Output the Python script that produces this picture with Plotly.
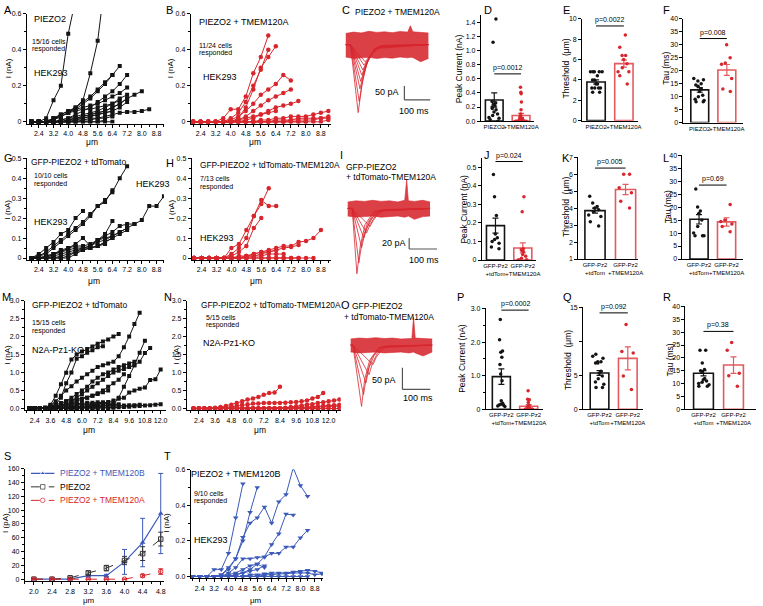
import plotly.graph_objects as go

W, H = 763, 606
FONT = "Liberation Sans, Arial, sans-serif"
BLACK = "#141414"
RED = "#d8262d"
RED_BAR = "#e35a5f"
BLUE = "#3b5ab9"

# ---------------- data ----------------
STEPS = [2.0, 2.4, 2.8, 3.2, 3.6, 4.0, 4.4, 4.8, 5.2, 5.6, 6.0, 6.4, 6.8, 7.2,
         7.6, 8.0, 8.4, 8.8, 9.2, 9.6, 10.0, 10.4, 10.8, 11.2, 11.6, 12.0, 12.4, 12.8]

# A: PIEZO2, HEK293 (nA)
A_series = [
    [0, 0, 0.02, 0.12, 0.20, 0.49, 0.68],
    [0, 0, 0, 0.02, 0.03, 0.05, 0.08, 0.12, 0.27, 0.45, 0.78],
    [0, 0, 0, 0.02, 0.04, 0.06, 0.08, 0.11, 0.14, 0.18, 0.22, 0.26, 0.31],
    [0, 0, 0, 0.01, 0.03, 0.05, 0.07, 0.10, 0.13, 0.17, 0.21, 0.26],
    [0, 0, 0, 0, 0.01, 0.02, 0.04, 0.06, 0.08, 0.11, 0.14, 0.17, 0.21, 0.26],
    [0, 0, 0, 0, 0, 0.01, 0.02, 0.03, 0.04, 0.05, 0.06, 0.08, 0.10, 0.13, 0.15, 0.17],
    [0, 0, 0, 0, 0, 0, 0.01, 0.01, 0.02, 0.02, 0.03, 0.04, 0.05, 0.055, 0.055, 0.06, 0.07],
    [0, 0, 0, 0, 0.01, 0.02, 0.03, 0.04, 0.05, 0.06, 0.08, 0.10, 0.13, 0.15],
    [0, 0, 0, 0, 0, 0.01, 0.02, 0.03, 0.04, 0.05, 0.06, 0.08, 0.10, 0.13],
    [0, 0, 0, 0, 0, 0, 0.01, 0.02, 0.03, 0.04, 0.05, 0.06, 0.08, 0.11],
    [0, 0, 0, 0, 0, 0.01, 0.02, 0.02, 0.03, 0.04, 0.05, 0.06],
    [0, 0, 0, 0, 0, 0, 0, 0.01, 0.01, 0.02, 0.02, 0.03],
    [0, 0, 0, 0.01, 0.03, 0.05, 0.06, 0.07, 0.07, 0.08, 0.09, 0.10, 0.12],
    [0, 0, 0, 0.02, 0.04, 0.06, 0.07, 0.08, 0.09, 0.10, 0.12, 0.14, 0.16, 0.19],
    [0, 0, 0, 0, 0, 0, 0, 0, 0, 0, 0, 0],
    [0, 0, 0, 0, 0, 0, 0, 0, 0, 0, 0.01],
]
# B: PIEZO2 + TMEM120A, HEK293 (nA)
B_series = [
    [0, 0, 0, 0, 0.02, 0.07, 0.07, 0.14, 0.27, 0.36, 0.48],
    [0, 0, 0, 0, 0, 0, 0.02, 0.08, 0.18, 0.30, 0.36, 0.42],
    [0, 0, 0, 0, 0, 0.02, 0.05, 0.11, 0.20, 0.29, 0.40],
    [0, 0, 0, 0, 0, 0.01, 0.03, 0.06, 0.10, 0.15, 0.18, 0.21, 0.26, 0.23],
    [0, 0, 0, 0, 0, 0, 0.01, 0.03, 0.06, 0.09, 0.12, 0.14, 0.16, 0.18],
    [0, 0, 0, 0, 0, 0, 0, 0.01, 0.02, 0.04, 0.06, 0.08, 0.09, 0.10, 0.115],
    [0, 0, 0, 0, 0, 0, 0, 0, 0, 0.01, 0.01, 0.02, 0.02, 0.03, 0.03, 0.03, 0.04, 0.05, 0.06],
    [0, 0, 0, 0, 0, 0, 0, 0, 0, 0, 0, 0.01, 0.01, 0.01, 0.02, 0.02, 0.02, 0.02, 0.03],
    [0, 0, 0, 0, 0, 0, 0, 0, 0, 0, 0, 0, 0, 0.01, 0.01, 0.01, 0.01, 0.02, 0.02],
    [0, 0, 0, 0, 0, 0, 0.01, 0.02, 0.03, 0.04, 0.05, 0.06],
    [0, 0, 0, 0, 0, 0, 0, 0, 0, 0, 0, 0, 0, 0, 0, 0, 0, 0, 0.01],
    [0, 0, 0, 0, 0, 0, 0, 0, 0, 0, 0, 0, 0, 0, 0, 0],
]
# G: GFP-PIEZO2 + tdTomato, HEK293 (nA)
G_series = [
    [0, 0.01, 0.03, 0.06, 0.09, 0.12, 0.15, 0.18, 0.22, 0.26, 0.29, 0.33, 0.40, 0.46],
    [0, 0.01, 0.02, 0.05, 0.08, 0.11, 0.14, 0.17, 0.21, 0.26, 0.28, 0.34],
    [0, 0.02, 0.05, 0.08, 0.12, 0.14, 0.20, 0.235],
    [0, 0, 0.01, 0.02, 0.03, 0.05, 0.07, 0.10, 0.06, 0.09, 0.12, 0.185],
    [0, 0, 0.01, 0.02, 0.03, 0.04, 0.05, 0.05, 0.06, 0.09, 0.11, 0.13, 0.16, 0.17, 0.17, 0.19, 0.26, 0.26, 0.31],
    [0, 0, 0, 0.01, 0.02, 0.03, 0.04, 0.05, 0.06, 0.08, 0.09, 0.11, 0.13, 0.15, 0.17],
    [0, 0, 0, 0, 0.01, 0.02, 0.03, 0.04, 0.05, 0.06, 0.08, 0.10, 0.12, 0.14],
    [0, 0, 0, 0, 0, 0.01, 0.03, 0.05, 0.05, 0.06, 0.08, 0.10],
    [0, 0, 0, 0.02, 0.04, 0.05, 0.06, 0.06, 0.07, 0.09, 0.10, 0.11, 0.13, 0.15],
    [0, 0, 0, 0, 0, 0, 0.02, 0.04, 0.05, 0.06, 0.07],
]
# H: GFP-PIEZO2 + tdTomato-TMEM120A, HEK293 (nA)
H_series = [
    [0, 0, 0, 0, 0, 0.05, 0.07, 0.14, 0.21, 0.27, 0.35],
    [0, 0, 0, 0, 0, 0.02, 0.05, 0.10, 0.21, 0.29, 0.26, 0.26],
    [0, 0, 0, 0, 0, 0.01, 0.03, 0.06, 0.15, 0.20],
    [0, 0, 0, 0, 0, 0, 0, 0.01, 0.02, 0.03, 0.04, 0.05, 0.06, 0.06, 0.08, 0.085, 0.10, 0.14],
    [0, 0, 0, 0, 0, 0, 0, 0.01, 0.01, 0.02, 0.03, 0.04, 0.05, 0.055, 0.065],
    [0, 0, 0, 0, 0, 0, 0.01, 0.01, 0.02, 0.03, 0.03, 0.04],
    [0, 0, 0, 0, 0, 0, 0, 0, 0.01, 0.01, 0.02, 0.02, 0.02],
    [0, 0, 0, 0, 0, 0, 0, 0, 0, 0, 0, 0, 0, 0, 0, 0, 0],
    [0, 0, 0, 0, 0, 0, 0, 0, 0, 0, 0, 0, 0, 0, 0],
]
# M: GFP-PIEZO2 + tdTomato, N2A-Pz1-KO (nA)
M_series = [
    [0, 0, 0, 0.02, 0.08, 0.2, 0.35, 0.5, 0.62, 0.75, 0.85, 0.95, 1.05, 1.15, 1.2, 1.25, 1.3, 1.45, 1.7, 2.0, 2.35, 2.66],
    [0, 0, 0, 0.02, 0.1, 0.35, 0.67, 0.99, 1.36, 1.5, 1.58, 1.65, 1.72, 1.8, 1.86, 1.92, 2.0, 2.07],
    [0, 0, 0, 0, 0.03, 0.1, 0.3, 0.7, 1.0, 1.38, 1.45, 1.55, 1.62, 1.7, 1.73],
    [0, 0, 0, 0, 0, 0, 0, 0, 0, 0, 0.02, 0.03, 0.04, 0.05, 0.06, 0.08, 0.1, 0.3, 0.6, 0.9, 1.2, 1.55, 1.88],
    [0, 0, 0, 0, 0, 0.02, 0.05, 0.1, 0.2, 0.3, 0.4, 0.5, 0.6, 0.7, 0.8, 0.9, 1.0, 1.05, 1.1, 1.15, 1.2, 1.3, 1.54, 1.68],
    [0, 0, 0, 0, 0, 0, 0, 0, 0.02, 0.03, 0.05, 0.07, 0.1, 0.12, 0.15, 0.18, 0.22, 0.27, 0.3, 0.44, 0.5, 0.55, 0.58, 0.79, 0.81, 1.08],
    [0, 0, 0, 0, 0.02, 0.05, 0.1, 0.2, 0.3, 0.4, 0.5, 0.6, 0.75, 0.85, 0.95, 1.0, 1.08, 1.15, 1.2, 1.25, 1.3],
    [0, 0, 0, 0, 0.01, 0.03, 0.06, 0.1, 0.15, 0.2, 0.25, 0.3, 0.35, 0.42, 0.5, 0.6, 0.7, 0.8, 0.95],
    [0, 0, 0, 0.01, 0.05, 0.1, 0.15, 0.2, 0.22, 0.25, 0.28, 0.3, 0.35, 0.4, 0.45, 0.5],
    [0, 0, 0, 0, 0, 0, 0, 0, 0, 0, 0, 0, 0, 0, 0, 0, 0.02, 0.03, 0.04, 0.05, 0.06, 0.07, 0.08, 0.09, 0.1, 0.12],
    [0, 0, 0, 0.02, 0.05, 0.08, 0.1, 0.12, 0.13, 0.14, 0.15, 0.16, 0.16, 0.17, 0.17],
    [0, 0, 0, 0, 0.02, 0.04, 0.06, 0.08, 0.1, 0.1, 0.11, 0.12, 0.12, 0.13, 0.13, 0.14, 0.15],
    [0, 0, 0, 0, 0, 0.02, 0.03, 0.04, 0.05, 0.06, 0.07, 0.08, 0.08, 0.09, 0.1, 0.1, 0.11, 0.12],
    [0, 0, 0, 0, 0, 0, 0, 0.01, 0.02, 0.03, 0.04, 0.05, 0.05, 0.06, 0.06, 0.07, 0.07, 0.08, 0.08, 0.09, 0.09, 0.1],
    [0, 0, 0, 0, 0, 0, 0, 0, 0, 0, 0.01, 0.01, 0.01, 0.02, 0.02, 0.02, 0.03],
]
# N: GFP-PIEZO2 + tdTomato-TMEM120A, N2A-Pz1-KO (nA)
N_series = [
    [0, 0, 0, 0, 0.02, 0.04, 0.07, 0.10, 0.15, 0.20, 0.25, 0.28, 0.32, 0.38, 0.43, 0.44, 0.60],
    [0, 0, 0, 0, 0, 0.01, 0.03, 0.05, 0.08, 0.10, 0.12, 0.14, 0.14, 0.15, 0.15, 0.15, 0.15, 0.16, 0.17, 0.18, 0.20, 0.22, 0.28, 0.32, 0.43],
    [0, 0, 0, 0, 0, 0, 0, 0, 0, 0, 0, 0, 0, 0, 0, 0, 0, 0.02, 0.04, 0.06, 0.08, 0.10, 0.12, 0.15, 0.17, 0.20, 0.22, 0.25],
    [0, 0, 0, 0, 0, 0, 0, 0, 0, 0, 0, 0, 0, 0, 0, 0, 0, 0, 0.01, 0.02, 0.03, 0.04, 0.05, 0.06, 0.07, 0.08, 0.09, 0.10],
    [0, 0, 0, 0, 0, 0, 0, 0, 0, 0, 0, 0, 0, 0, 0, 0, 0, 0, 0, 0.01, 0.02, 0.02, 0.03, 0.04, 0.05, 0.05, 0.06, 0.07],
    [0, 0, 0, 0, 0, 0, 0, 0, 0, 0, 0, 0, 0, 0, 0, 0, 0, 0, 0, 0, 0, 0, 0, 0, 0, 0, 0, 0],
    [0, 0, 0, 0, 0, 0, 0, 0, 0, 0, 0, 0, 0, 0, 0, 0, 0, 0, 0, 0, 0, 0, 0, 0],
]
# T: PIEZO2 + TMEM120B, HEK293 (nA)
T_series = [
    [0, 0, 0, 0.04, 0.04, 0.13, 0.33, 0.52],
    [0, 0, 0, 0, 0.01, 0.05, 0.10, 0.20, 0.36, 0.50],
    [0, 0, 0, 0, 0.01, 0.04, 0.10, 0.22, 0.30, 0.33, 0.39, 0.30, 0.42, 0.46, 0.61, 0.51, 0.45],
    [0, 0, 0, 0, 0, 0, 0.01, 0.02, 0.04, 0.07, 0.11, 0.18, 0.24, 0.35, 0.345],
    [0, 0, 0, 0, 0, 0.02, 0.05, 0.10, 0.10, 0.107, 0.11, 0.13, 0.13, 0.166, 0.166, 0.217, 0.26],
    [0, 0, 0, 0, 0, 0.01, 0.02, 0.04, 0.06, 0.07, 0.05],
    [0, 0, 0, 0, 0, 0, 0.01, 0.02, 0.03, 0.04, 0.06],
    [0, 0, 0, 0, 0, 0, 0, 0, 0.01, 0.01, 0.015, 0.02, 0.02, 0.02, 0.025, 0.03, 0.035, 0.03, 0.02],
    [0, 0, 0, 0, 0, 0, 0, 0, 0, 0, 0.01, 0.01, 0.015, 0.015, 0.02, 0.02, 0.02, 0.01, 0.015],
    [0, 0, 0, 0, 0, 0, 0, 0, 0, 0, 0, 0, 0, 0, 0, 0, 0],
]
# S: mean +/- SEM (pA)
S_x = [2.0, 2.4, 2.8, 3.2, 3.6, 4.0, 4.4, 4.8]
S_B = [0, 0, 0, 5, 5, 25, 53, 95]
S_B_err = [0, 0, 0, 2, 2, 18, 35, 58]
S_P = [0, 0, 2, 9, 16, 27, 37, 58]
S_P_err = [0, 0, 1, 3, 4, 6, 10, 10]
S_A = [0, 0, 0, 0, 0, 0, 5, 11]
S_A_err = [0, 0, 0, 0, 0, 0, 2, 4]
S_NAMES = ["PIEZO2 + TMEM120B", "PIEZO2", "PIEZO2 + TMEM120A"]

# Example current traces (time ms, current pA)
C_sweeps = [
    ([0, 18, 48, 62, 80, 110, 320], [0, 0, -246, -150, -70, -15, 0]),
    ([0, 18, 52, 66, 85, 115, 320], [0, 0, -205, -125, -60, -12, 0]),
    ([0, 18, 55, 70, 90, 120, 320], [0, 0, -160, -100, -50, -10, 0]),
    ([0, 18, 58, 74, 95, 125, 320], [0, 0, -133, -85, -42, -8, 0]),
    ([0, 18, 62, 78, 100, 130, 320], [0, 0, -110, -72, -36, -6, 0]),
    ([0, 18, 66, 82, 105, 135, 320], [0, 0, -92, -60, -30, -5, 0]),
    ([0, 18, 70, 88, 110, 140, 320], [0, 0, -74, -50, -25, -4, 0]),
    ([0, 18, 75, 92, 115, 145, 320], [0, 0, -62, -42, -20, -3, 0]),
]
C_band_t = [0, 30, 60, 90, 120, 150, 180, 210, 240, 250, 260, 290, 320]
C_band_hi = [40, 45, 42, 48, 44, 46, 43, 47, 45, 68, 46, 44, 42]
C_band_lo = [-45, -50, -48, -46, -50, -47, -49, -45, -48, -46, -47, -62, -50]

I_sweeps = [
    ([0, 16, 33, 45, 62, 95, 296], [0, 0, -120, -70, -30, -5, 0]),
    ([0, 16, 40, 52, 70, 100, 296], [0, 0, -100, -60, -28, -5, 0]),
    ([0, 16, 50, 62, 80, 110, 296], [0, 0, -72, -45, -22, -4, 0]),
    ([0, 16, 58, 70, 88, 118, 296], [0, 0, -54, -35, -18, -3, 0]),
    ([0, 16, 68, 80, 98, 125, 296], [0, 0, -45, -30, -15, -3, 0]),
    ([0, 16, 80, 92, 110, 135, 296], [0, 0, -33, -22, -10, -2, 0]),
]
I_band_t = [0, 30, 60, 90, 120, 150, 180, 205, 212, 218, 240, 270, 296]
I_band_hi = [12, 14, 13, 15, 13, 14, 12, 15, 53, 14, 13, 15, 12]
I_band_lo = [-14, -16, -15, -14, -16, -15, -14, -16, -15, -14, -20, -15, -14]

O_sweeps = [
    ([0, 8, 39, 50, 68, 100, 293], [0, 0, -141, -80, -35, -6, 0]),
    ([0, 8, 46, 58, 75, 105, 293], [0, 0, -114, -68, -30, -5, 0]),
    ([0, 8, 55, 66, 84, 112, 293], [0, 0, -87, -52, -24, -4, 0]),
    ([0, 8, 66, 78, 95, 120, 293], [0, 0, -68, -42, -20, -3, 0]),
    ([0, 8, 80, 92, 108, 132, 293], [0, 0, -45, -28, -14, -2, 0]),
]
O_band_t = [0, 30, 60, 90, 120, 150, 180, 210, 220, 226, 232, 260, 293]
O_band_hi = [14, 16, 15, 17, 15, 16, 14, 16, 15, 64, 16, 15, 14]
O_band_lo = [-16, -18, -17, -16, -18, -17, -16, -18, -17, -16, -18, -25, -16]

# Bar charts: [control, TMEM120A]
D_mean, D_sem = [0.30, 0.08], [0.10, 0.03]
D_pts = [[1.45, 1.12, 0.28, 0.26, 0.24, 0.22, 0.2, 0.18, 0.16, 0.13, 0.1, 0.08, 0.05, 0.04, 0.02, 0.0],
         [0.48, 0.41, 0.39, 0.27, 0.16, 0.1, 0.07, 0.05, 0.04, 0.03, 0.02, 0.02, 0.01, 0.01,
          0, 0, 0, 0, 0, 0, 0, 0, 0, 0]]
E_mean, E_sem = [3.8, 5.6], [0.2, 0.35]
E_pts = [[4.8, 4.8, 4.8, 4.8, 4.8, 4.4, 4.0, 4.0, 3.6, 3.6, 3.2, 3.2, 3.2, 3.2, 2.8, 2.8],
         [8.4, 7.2, 6.4, 6.4, 6.0, 5.6, 5.2, 4.8, 4.8, 4.4, 3.6]]
F_mean, F_sem = [12.6, 20.3], [0.9, 2.1]
F_pts = [[17, 16.5, 16, 15, 14.5, 14, 13, 12, 10.5, 10, 9, 8.5, 8, 8],
         [30, 25, 23, 22.5, 17, 13, 12]]
J_mean, J_sem = [0.185, 0.065], [0.04, 0.027]
J_pts = [[0.46, 0.34, 0.24, 0.14, 0.12, 0.11, 0.1, 0.09, 0.07, 0.06],
         [0.34, 0.26, 0.06, 0.055, 0.05, 0.045, 0.03, 0.02, 0.01, 0.0, 0.0, 0.0, 0.0]]
K_mean, K_sem = [3.85, 5.1], [0.15, 0.3]
K_pts = [[4.7, 4.3, 4.1, 4.0, 3.9, 3.8, 3.6, 3.5, 3.2, 2.95],
         [6.0, 6.0, 5.2, 4.9, 4.4, 4.0]]
L_mean, L_sem = [15.3, 14.3], [1.8, 1.6]
L_pts = [[27, 20, 18.5, 17.5, 15, 12.5, 10, 9, 9, 9],
         [21, 15, 14.5, 13.5, 12.5, 10.5]]
P_mean, P_sem = [0.97, 0.09], [0.23, 0.05]
P_pts = [[2.67, 2.07, 1.73, 1.7, 1.55, 1.33, 1.05, 0.85, 0.25, 0.18, 0.15, 0.13, 0.12, 0.1, 0.08],
         [0.55, 0.3, 0.28, 0.2, 0.12, 0.08, 0.05, 0.03, 0.02, 0.01, 0, 0, 0, 0, 0]]
Q_mean, Q_sem = [5.35, 7.5], [0.35, 1.7]
Q_pts = [[8.1, 7.8, 7.5, 7.0, 7.0, 6.8, 6.8, 5.6, 5.3, 4.9, 4.5, 4.0, 3.7, 3.2, 3.2],
         [12.5, 8.5, 8.3, 4.9, 2.9]]
R_mean, R_sem = [14.0, 17.2], [1.0, 3.2]
R_pts = [[23, 23, 18, 15.5, 15, 14.5, 12, 11.5, 11, 10.5, 10, 9.5, 9, 9],
         [26, 23, 14, 13, 9]]

CATS1 = ["PIEZO2", "+TMEM120A"]
CATS2 = ["GFP-Pz2<br>+tdTom", "GFP-Pz2<br>+TMEM120A"]
P_TEXT = {"D": "p=0.0012", "E": "p=0.0022", "F": "p=0.008", "J": "p=0.024", "K": "p=0.005",
          "L": "p=0.69", "P": "p=0.0002", "Q": "p=0.092", "R": "p=0.38"}

# ---------------- figure ----------------
fig = go.Figure()
layout = dict(width=W, height=H, margin=dict(l=0, r=0, t=0, b=0),
              paper_bgcolor="white", plot_bgcolor="rgba(0,0,0,0)",
              font=dict(family=FONT, size=8, color="black"), barmode="overlay",
              boxmode="overlay", showlegend=False)
anns = []
shapes = []
counter = [0]


def new_axes(xpx, ypx, xr, yr, xkw=None, ykw=None, visible=True):
    counter[0] += 1
    n = counter[0]
    sfx = "" if n == 1 else str(n)
    base = dict(showgrid=False, zeroline=False, showline=True, linecolor="black", linewidth=1,
                ticks="outside", ticklen=3, tickwidth=1, tickcolor="black", tickangle=0,
                tickfont=dict(size=7, family=FONT, color="black"), fixedrange=True,
                visible=visible)
    X = dict(base, domain=[xpx[0] / W, xpx[1] / W], range=xr, anchor="y" + sfx)
    Y = dict(base, domain=[1 - ypx[1] / H, 1 - ypx[0] / H], range=yr, anchor="x" + sfx)
    X.update(xkw or {})
    Y.update(ykw or {})
    layout["xaxis" + sfx] = X
    layout["yaxis" + sfx] = Y
    return "x" + sfx, "y" + sfx


def text(t, x, y, size=8.5, color="black", xa="left", ya="middle", angle=0):
    anns.append(dict(text=t, x=x / W, y=1 - y / H, xref="paper", yref="paper", showarrow=False,
                     font=dict(size=size, color=color, family=FONT), xanchor=xa, yanchor=ya,
                     textangle=angle))


def minor(dtick, tick0):
    return dict(ticks="outside", ticklen=2, tickwidth=1, tickcolor="black", dtick=dtick, tick0=tick0)


def line_panel(series, color, symbol, msize, xpx, ypx, xr, yr, xt0, xdt, xm0, xmdt, ytv, ytt, ymdt):
    xa, ya = new_axes(xpx, ypx, xr, yr,
                      xkw=dict(tick0=xt0, dtick=xdt, tickformat=".1f", minor=minor(xmdt, xm0)),
                      ykw=dict(tickmode="array", tickvals=ytv, ticktext=ytt, minor=minor(ymdt, 0)))
    for s in series:
        fig.add_trace(go.Scatter(x=STEPS[:len(s)], y=s, mode="lines+markers", xaxis=xa, yaxis=ya,
                                 line=dict(color=color, width=1),
                                 marker=dict(symbol=symbol, size=msize, color=color, line=dict(width=0)),
                                 showlegend=False, hoverinfo="skip"))
    return xa, ya


def trace_panel(sweeps, bt, bhi, blo, xpx, ypx, xr, yr, bar_t, bar_y, bar_dt, bar_dy):
    xa, ya = new_axes(xpx, ypx, xr, yr, visible=False)
    fig.add_trace(go.Scatter(x=bt, y=bhi, mode="lines", line=dict(color=RED, width=0.6),
                             xaxis=xa, yaxis=ya, showlegend=False, hoverinfo="skip"))
    fig.add_trace(go.Scatter(x=bt, y=blo, mode="lines", line=dict(color=RED, width=0.6),
                             fill="tonexty", fillcolor="rgba(214,38,45,0.88)",
                             xaxis=xa, yaxis=ya, showlegend=False, hoverinfo="skip"))
    for t, v in sweeps:
        fig.add_trace(go.Scatter(x=t, y=v, mode="lines", line=dict(color=RED, width=0.8),
                                 xaxis=xa, yaxis=ya, showlegend=False, hoverinfo="skip"))
    lc = dict(color="#555555", width=1.2)
    shapes.append(dict(type="line", xref=xa, yref=ya, x0=bar_t, x1=bar_t, y0=bar_y, y1=bar_y + bar_dy, line=lc))
    shapes.append(dict(type="line", xref=xa, yref=ya, x0=bar_t, x1=bar_t + bar_dt, y0=bar_y, y1=bar_y, line=lc))


def bar_panel(means, sems, pts, key, cats, xpx, ypx, xr, yr, ytv, ytt, pline, ymdt=None):
    ykw = dict(tickmode="array", tickvals=ytv, ticktext=ytt)
    if ymdt:
        ykw["minor"] = minor(ymdt, 0)
    xa, ya = new_axes(xpx, ypx, xr, yr,
                      xkw=dict(tickmode="array", tickvals=[0, 1], ticktext=cats, ticks="",
                               tickfont=dict(size=6, family=FONT, color="black")),
                      ykw=ykw)
    for i, (m, s, p) in enumerate(zip(means, sems, pts)):
        c = BLACK if i == 0 else RED
        cb = BLACK if i == 0 else RED_BAR
        fig.add_trace(go.Bar(x=[i], y=[m], width=0.66, xaxis=xa, yaxis=ya,
                             marker=dict(color="white", line=dict(color=cb, width=1.6)),
                             error_y=dict(type="data", array=[s], color=cb, thickness=1.2, width=3),
                             showlegend=False, hoverinfo="skip"))
        fig.add_trace(go.Box(x=[i] * len(p), y=p, boxpoints="all", jitter=0.9, pointpos=0, width=0.55,
                             fillcolor="rgba(0,0,0,0)", line=dict(color="rgba(0,0,0,0)", width=0),
                             marker=dict(color=c, size=3.5), xaxis=xa, yaxis=ya,
                             showlegend=False, hoverinfo="skip"))
    shapes.append(dict(type="line", xref=xa, yref=ya, x0=0, x1=1, y0=pline, y1=pline,
                       line=dict(color="black", width=1)))
    anns.append(dict(text=P_TEXT[key], x=0.5, y=pline, xref=xa, yref=ya, showarrow=False,
                     yanchor="bottom", yshift=0, font=dict(size=7, family=FONT, color="black")))


X_TICK_NA = dict(xt0=2.4, xdt=0.8, xm0=2.0, xmdt=0.4)

# Row 1
line_panel(A_series, BLACK, "square", 4, (27, 165), (10, 121), [1.75, 9.2], [-0.01, 0.6],
           ytv=[0, 0.2, 0.4, 0.6], ytt=["0", "0.2", "0.4", "0.6"], ymdt=0.1, **X_TICK_NA)
line_panel(B_series, RED, "circle", 4.5, (192, 333), (10, 121), [1.87, 9.33], [-0.01, 0.6],
           ytv=[0, 0.2, 0.4, 0.6], ytt=["0", "0.2", "0.4", "0.6"], ymdt=0.1, **X_TICK_NA)
trace_panel(C_sweeps, C_band_t, C_band_hi, C_band_lo, (340, 445), (15, 115), [-31, 373], [-264, 93],
            227, -200, 100, 50)
bar_panel(D_mean, D_sem, D_pts, "D", CATS1, (484, 538), (11.5, 118.5), [-0.5, 1.5], [0, 1.5],
          [0, 0.2, 0.4, 0.6, 0.8, 1.0, 1.2, 1.4], ["0.0", "0.2", "0.4", "0.6", "0.8", "1.0", "1.2", "1.4"], 0.67)
bar_panel(E_mean, E_sem, E_pts, "E", CATS1, (586, 642), (15, 118), [-0.5, 1.5], [0, 10],
          [0, 2, 4, 6, 8, 10], ["0", "2", "4", "6", "8", "10"], 9.3)
bar_panel(F_mean, F_sem, F_pts, "F", CATS1, (688, 748), (15, 120), [-0.6, 1.6], [0, 40],
          [0, 5, 10, 15, 20, 25, 30, 35, 40], ["0", "5", "10", "15", "20", "25", "30", "35", "40"], 32.4)

# Row 2
line_panel(G_series, BLACK, "square", 4, (27, 165), (156, 259), [1.75, 9.2], [-0.01, 0.5],
           ytv=[0, 0.1, 0.2, 0.3, 0.4, 0.5], ytt=["0", "0.1", "0.2", "0.3", "0.4", "0.5"], ymdt=0.05, **X_TICK_NA)
line_panel(H_series, RED, "circle", 4.5, (193, 333), (156, 259), [1.87, 9.33], [-0.01, 0.5],
           ytv=[0, 0.1, 0.2, 0.3, 0.4, 0.5], ytt=["0", "0.1", "0.2", "0.3", "0.4", "0.5"], ymdt=0.05, **X_TICK_NA)
trace_panel(I_sweeps, I_band_t, I_band_hi, I_band_lo, (345, 445), (170, 280), [-17.9, 339.3], [-133, 67],
            221, -74.6, 100, 20)
bar_panel(J_mean, J_sem, J_pts, "J", CATS2, (485, 540), (155.6, 259), [-0.5, 1.5], [0, 0.55],
          [0, 0.1, 0.2, 0.3, 0.4, 0.5], ["0", "0.1", "0.2", "0.3", "0.4", "0.5"], 0.53)
bar_panel(K_mean, K_sem, K_pts, "K", CATS2, (582, 642), (155, 258), [-0.55, 1.4], [1, 7],
          [1, 2, 3, 4, 5, 6, 7], ["1", "2", "3", "4", "5", "6", "7"], 6.36)
bar_panel(L_mean, L_sem, L_pts, "L", CATS2, (687, 748), (153, 258), [-0.6, 1.6], [0, 40],
          [0, 5, 10, 15, 20, 25, 30, 35, 40], ["0", "5", "10", "15", "20", "25", "30", "35", "40"], 28.5)

# Row 3
line_panel(M_series, BLACK, "square", 4, (25, 167), (300, 411), [1.65, 12.4], [-0.05, 3.0],
           xt0=2.4, xdt=1.2, xm0=3.0, xmdt=0.6,
           ytv=[0, 0.5, 1.0, 1.5, 2.0, 2.5, 3.0], ytt=["0.0", "0.5", "1.0", "1.5", "2.0", "2.5", "3.0"], ymdt=0.25)
line_panel(N_series, RED, "circle", 4.5, (188, 343), (300, 411), [1.5, 12.9], [-0.05, 3.0],
           xt0=2.4, xdt=1.2, xm0=3.0, xmdt=0.6,
           ytv=[0, 0.5, 1.0, 1.5, 2.0, 2.5, 3.0], ytt=["0.0", "0.5", "1.0", "1.5", "2.0", "2.5", "3.0"], ymdt=0.25)
trace_panel(O_sweeps, O_band_t, O_band_hi, O_band_lo, (348, 448), (312, 412), [-17.9, 339.3], [-152, 75],
            186, -102, 100, 50)
bar_panel(P_mean, P_sem, P_pts, "P", CATS2, (489, 547), (308, 410), [-0.57, 1.54], [0, 3.0],
          [0, 1, 2, 3], ["0", "1.0", "2.0", "3.0"], 2.95, ymdt=0.5)
bar_panel(Q_mean, Q_sem, Q_pts, "Q", CATS2, (587, 647), (307, 410), [-0.58, 1.53], [0, 15],
          [0, 5, 10, 15], ["0", "5", "", "15"], 14.2)
bar_panel(R_mean, R_sem, R_pts, "R", CATS2, (690, 761), (306, 410), [-0.6, 1.75], [0, 40],
          [0, 5, 10, 15, 20, 25, 30, 35, 40], ["0", "5", "10", "15", "20", "25", "30", "35", "40"], 30.3)

# Row 4: S summary (mean +/- SEM)
xs, ys = new_axes((25, 165), (470, 584), [1.8, 4.87], [-3, 160],
                  xkw=dict(tick0=2.0, dtick=0.4, tickformat=".1f", minor=minor(0.2, 2.0)),
                  ykw=dict(tickmode="array", tickvals=[0, 20, 40, 60, 80, 100, 120, 140, 160],
                           ticktext=["0", "20", "40", "60", "80", "100", "120", "140", "160"],
                           minor=minor(10, 0)))
S_STYLE = [
    (S_B, S_B_err, BLUE, "solid", "triangle-up", 1.2),
    (S_P, S_P_err, "#333333", "dash", "square-open", 1.0),
    (S_A, S_A_err, RED, "dash", "circle-open", 1.0),
]
for (yv, ev, col, dash, sym, lw), nm in zip(S_STYLE, S_NAMES):
    fig.add_trace(go.Scatter(x=S_x, y=yv, mode="lines+markers", xaxis=xs, yaxis=ys, name=nm,
                             line=dict(color=col, width=lw, dash=dash),
                             marker=dict(symbol=sym, size=5 if sym == "triangle-up" else 4.5, color=col),
                             error_y=dict(type="data", array=ev, color=col, thickness=1, width=2.5),
                             showlegend=False, hoverinfo="skip"))

# legend for S (keys drawn on a hidden axis box)
xl, yl = new_axes((31, 55), (468, 509), [0, 1], [0, 3], visible=False)
for k, ((yv, ev, col, dash, sym, lw), nm) in enumerate(zip(S_STYLE, S_NAMES)):
    yk = 2.5 - k
    fig.add_trace(go.Scatter(x=[0, 0.5, 1], y=[yk, yk, yk], mode="lines+markers", xaxis=xl, yaxis=yl,
                             line=dict(color=col, width=lw, dash=dash),
                             marker=dict(symbol=sym, size=[0, 5 if sym == "triangle-up" else 4.5, 0], color=col),
                             showlegend=False, hoverinfo="skip"))
    text(nm, 58, 474.8 + 13.7 * k, size=8.5, color=("black" if col == "#333333" else col))

line_panel(T_series, BLUE, "triangle-down", 5, (192, 325), (471, 581), [1.9, 9.25], [-0.01, 0.6],
           ytv=[0, 0.2, 0.4, 0.6], ytt=["0.0", "0.2", "0.4", "0.6"], ymdt=0.1, **X_TICK_NA)

# ---------------- text ----------------
for L, x, y in [("A", 2, 6), ("B", 165, 6), ("C", 342, 6), ("D", 485, 6), ("E", 565, 6), ("F", 665, 6),
                ("G", 2, 156), ("H", 165, 161), ("I", 340, 153), ("J", 485, 153), ("K", 564, 156), ("L", 665, 156),
                ("M", 0, 296), ("N", 163, 296), ("O", 341, 305), ("P", 458, 296), ("Q", 565, 296), ("R", 665, 296),
                ("S", 2, 457), ("T", 163, 457)]:
    text(L, x, y, size=11)

text("PIEZO2", 32, 15, size=9)
text("15/16 cells", 30, 38, size=7)
text("responded", 30, 46, size=7)
text("HEK293", 32, 70, size=9)
text("PIEZO2 + TMEM120A", 198, 18, size=9)
text("11/24 cells", 198, 42, size=7)
text("responded", 198, 50, size=7)
text("HEK293", 202, 74, size=9)
text("PIEZO2 + TMEM120A", 400, 8, xa="center")
text("50 pA", 390, 89, size=9, xa="center")
text("100 ms", 417, 108, size=9, xa="center")

text("GFP-PIEZO2 + tdTomato", 29, 160)
text("10/10 cells", 32, 173, size=7)
text("responded", 32, 182, size=7)
text("HEK293", 32, 221, size=9)
text("HEK293", 135, 182, size=9)
text("GFP-PIEZO2 + tdTomato-TMEM120A", 199, 163, size=8.3)
text("7/13 cells", 199, 177, size=7)
text("responded", 199, 185, size=7)
text("HEK293", 199, 237, size=9)
text("GFP-PIEZO2", 346, 165)
text("+ tdTomato-TMEM120A", 346, 175)
text("20 pA", 397, 242, size=9, xa="center")
text("100 ms", 427, 259, size=9, xa="center")

text("GFP-PIEZO2 + tdTomato", 30, 305)
text("15/15 cells", 30, 322, size=7)
text("responded", 30, 331, size=7)
text("N2A-Pz1-KO", 30, 350, size=9)
text("GFP-PIEZO2 + tdTomato-TMEM120A", 200, 305, size=8.3)
text("5/15 cells", 205, 317, size=7)
text("responded", 205, 325, size=7)
text("N2A-Pz1-KO", 202, 343, size=9)
text("GFP-PIEZO2", 352, 306)
text("+ tdTomato-TMEM120A", 344, 317)
text("50 pA", 387, 380, size=9, xa="center")
text("100 ms", 421, 399, size=9, xa="center")

text("PIEZO2 + TMEM120B", 190, 475, size=9)
text("9/10 cells", 193, 495, size=7)
text("responded", 193, 503, size=7)
text("HEK293", 193, 542, size=9)

# axis titles
for x, y in [(8, 65), (171, 65), (8, 208), (173, 208), (8, 355), (178, 355), (168, 525)]:
    text("I (nA)", x, y, size=8, xa="center", angle=-90)
text("I (pA)", 6, 525, size=8, xa="center", angle=-90)
for x, y in [(93, 140), (257, 140), (95, 280), (258, 280), (90, 431), (262, 431)]:
    text("μm", x, y, size=8.5, xa="center")
for x in (90, 258):
    text("μm", x, 603, size=8, xa="center")
for x, y in [(462, 65), (467, 207), (465, 358)]:
    text("Peak Current (nA)", x, y, size=8.5, xa="center", angle=-90)
for x, y in [(570, 65), (569, 205), (572, 360)]:
    text("Threshold  (μm)", x, y, size=8.5, xa="center", angle=-90)
for x, y in [(671, 65), (672, 205), (674, 360)]:
    text("Tau (ms)", x, y, size=8.5, xa="center", angle=-90)

layout["annotations"] = anns
layout["shapes"] = shapes
fig.update_layout(**layout)
fig.write_html("out.html", config={"displayModeBar": False},
               post_script="document.body.style.margin='0';document.body.style.padding='0';")
